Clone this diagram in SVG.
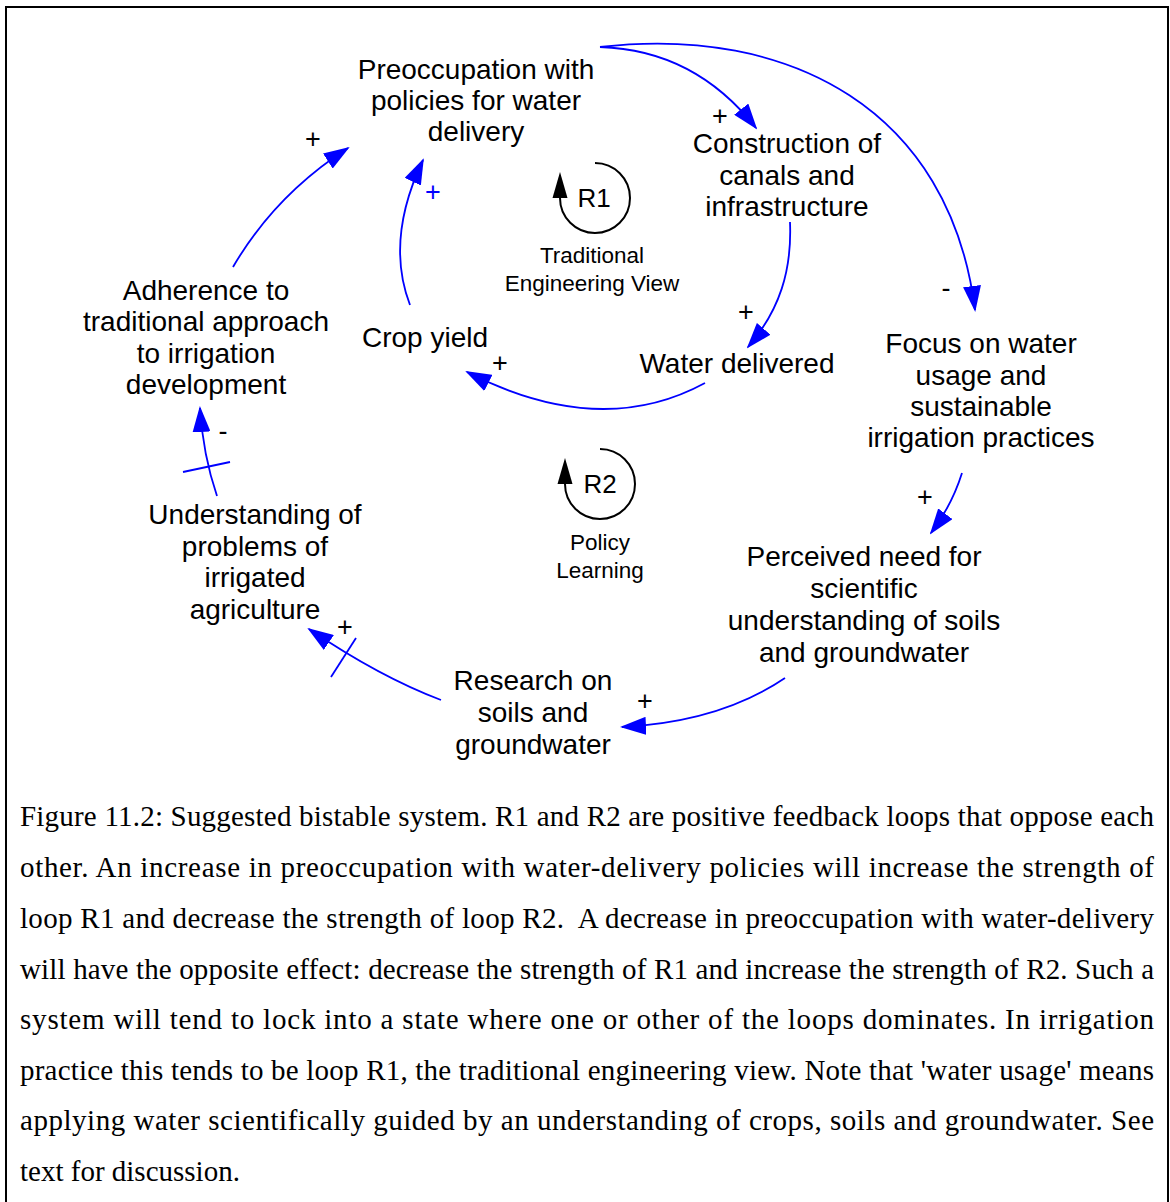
<svg xmlns="http://www.w3.org/2000/svg" width="1170" height="1202" viewBox="0 0 1170 1202">
  <style>
    .node { font-family: "Liberation Sans", Arial, sans-serif; font-size: 28px; fill: #000; text-anchor: middle; }
    .loopname { font-family: "Liberation Sans", Arial, sans-serif; font-size: 26px; fill: #000; text-anchor: middle; }
    .looplabel { font-family: "Liberation Sans", Arial, sans-serif; font-size: 22.5px; fill: #000; text-anchor: middle; }
    .pol { font-family: "Liberation Sans", Arial, sans-serif; font-size: 27px; fill: #000; text-anchor: middle; }
    .pol-blue { fill: #0000ff; }
    .link { fill: none; stroke: #0000ff; stroke-width: 1.8; marker-end: url(#arrow); }
    .delay { fill: none; stroke: #0000ff; stroke-width: 1.8; }
    .loop { fill: none; stroke: #000; stroke-width: 2; }
    .caption { font-family: "Liberation Serif", "Times New Roman", serif; font-size: 29px; fill: #000; }
  </style>
  <defs>
    <marker id="arrow" viewBox="0 0 26 18" refX="24" refY="9" markerWidth="26" markerHeight="18" markerUnits="userSpaceOnUse" orient="auto">
      <path d="M0,0 L26,9 L0,18 Z" fill="#0000ff"/>
    </marker>
  </defs>

  <!-- frame -->
  <path d="M6,1210 V7 H1168 V1210" fill="none" stroke="#000" stroke-width="2"/>

  <!-- causal links -->
  <g id="connectors">
    <path class="link" d="M600,47 Q 695,50 756,128"/>
    <path class="link" d="M600,47 C 790,25 950,110 975,310"/>
    <path class="link" d="M790,222 C 792,270 780,310 748,347"/>
    <path class="link" d="M705,383 Q 600,440 467,372"/>
    <path class="link" d="M410,305 Q 385,240 423,160"/>
    <path class="link" d="M233,267 Q 275,195 348,148"/>
    <path class="link" d="M217,496 Q 203,455 200,408"/>
    <path class="delay" d="M183,472 L230,462"/>
    <path class="link" d="M441,700 Q 380,677 309,629"/>
    <path class="delay" d="M331,677 L356,638"/>
    <path class="link" d="M785,678 Q 720,722 622,727"/>
    <path class="link" d="M962,473 Q 952,505 931,533"/>

    <!-- link polarities -->
    <text class="pol" x="720" y="125">+</text>
    <text class="pol" x="946" y="297">-</text>
    <text class="pol" x="746" y="321">+</text>
    <text class="pol" x="500" y="372">+</text>
    <text class="pol pol-blue" x="433" y="201">+</text>
    <text class="pol" x="313" y="148">+</text>
    <text class="pol" x="223" y="440">-</text>
    <text class="pol" x="345" y="636">+</text>
    <text class="pol" x="645" y="710">+</text>
    <text class="pol" x="925" y="506">+</text>
  </g>

  <!-- variables -->
  <g id="n-preoccupation">
    <text class="node"><tspan x="476" y="79">Preoccupation with</tspan><tspan x="476" y="110">policies for water</tspan><tspan x="476" y="141">delivery</tspan></text>
  </g>
  <g id="n-construction">
    <text class="node"><tspan x="787" y="153">Construction of</tspan><tspan x="787" y="185">canals and</tspan><tspan x="787" y="216">infrastructure</tspan></text>
  </g>
  <g id="n-water-delivered">
    <text class="node" x="737" y="373">Water delivered</text>
  </g>
  <g id="n-crop-yield">
    <text class="node" x="425" y="347">Crop yield</text>
  </g>
  <g id="n-adherence">
    <text class="node"><tspan x="206" y="300">Adherence to</tspan><tspan x="206" y="331">traditional approach</tspan><tspan x="206" y="363">to irrigation</tspan><tspan x="206" y="394">development</tspan></text>
  </g>
  <g id="n-understanding">
    <text class="node"><tspan x="255" y="524">Understanding of</tspan><tspan x="255" y="556">problems of</tspan><tspan x="255" y="587">irrigated</tspan><tspan x="255" y="619">agriculture</tspan></text>
  </g>
  <g id="n-research">
    <text class="node"><tspan x="533" y="690">Research on</tspan><tspan x="533" y="722">soils and</tspan><tspan x="533" y="754">groundwater</tspan></text>
  </g>
  <g id="n-perceived-need">
    <text class="node"><tspan x="864" y="566">Perceived need for</tspan><tspan x="864" y="598">scientific</tspan><tspan x="864" y="630">understanding of soils</tspan><tspan x="864" y="662">and groundwater</tspan></text>
  </g>
  <g id="n-focus">
    <text class="node"><tspan x="981" y="353">Focus on water</tspan><tspan x="981" y="385">usage and</tspan><tspan x="981" y="416">sustainable</tspan><tspan x="981" y="447">irrigation practices</tspan></text>
  </g>

  <!-- loop markers -->
  <g id="loop-r1">
    <path class="loop" d="M595,163 A35,35 0 1 1 560,198"/>
    <path d="M560,172 L567.5,198 L552.5,198 Z" fill="#000"/>
    <text class="loopname" x="594" y="207">R1</text>
    <text class="looplabel"><tspan x="592" y="263">Traditional</tspan><tspan x="592" y="291">Engineering View</tspan></text>
  </g>
  <g id="loop-r2">
    <path class="loop" d="M600,449 A35,35 0 1 1 565,484"/>
    <path d="M565,458 L572.5,484 L557.5,484 Z" fill="#000"/>
    <text class="loopname" x="600" y="493">R2</text>
    <text class="looplabel"><tspan x="600" y="550">Policy</tspan><tspan x="600" y="578">Learning</tspan></text>
  </g>

  <!-- caption -->
  <g id="caption">
    <text class="caption" x="20" y="826" textLength="1134" lengthAdjust="spacing">Figure 11.2: Suggested bistable system. R1 and R2 are positive feedback loops that oppose each</text>
    <text class="caption" x="20" y="877" textLength="1134" lengthAdjust="spacing">other. An increase in preoccupation with water-delivery policies will increase the strength of</text>
    <text class="caption" x="20" y="928" textLength="1134" lengthAdjust="spacing" style="white-space:pre">loop R1 and decrease the strength of loop R2.  A decrease in preoccupation with water-delivery</text>
    <text class="caption" x="20" y="979" textLength="1134" lengthAdjust="spacing">will have the opposite effect: decrease the strength of R1 and increase the strength of R2. Such a</text>
    <text class="caption" x="20" y="1029" textLength="1134" lengthAdjust="spacing">system will tend to lock into a state where one or other of the loops dominates. In irrigation</text>
    <text class="caption" x="20" y="1080" textLength="1134" lengthAdjust="spacing">practice this tends to be loop R1, the traditional engineering view. Note that 'water usage' means</text>
    <text class="caption" x="20" y="1130" textLength="1134" lengthAdjust="spacing">applying water scientifically guided by an understanding of crops, soils and groundwater. See</text>
    <text class="caption" x="20" y="1181">text for discussion.</text>
  </g>
</svg>
